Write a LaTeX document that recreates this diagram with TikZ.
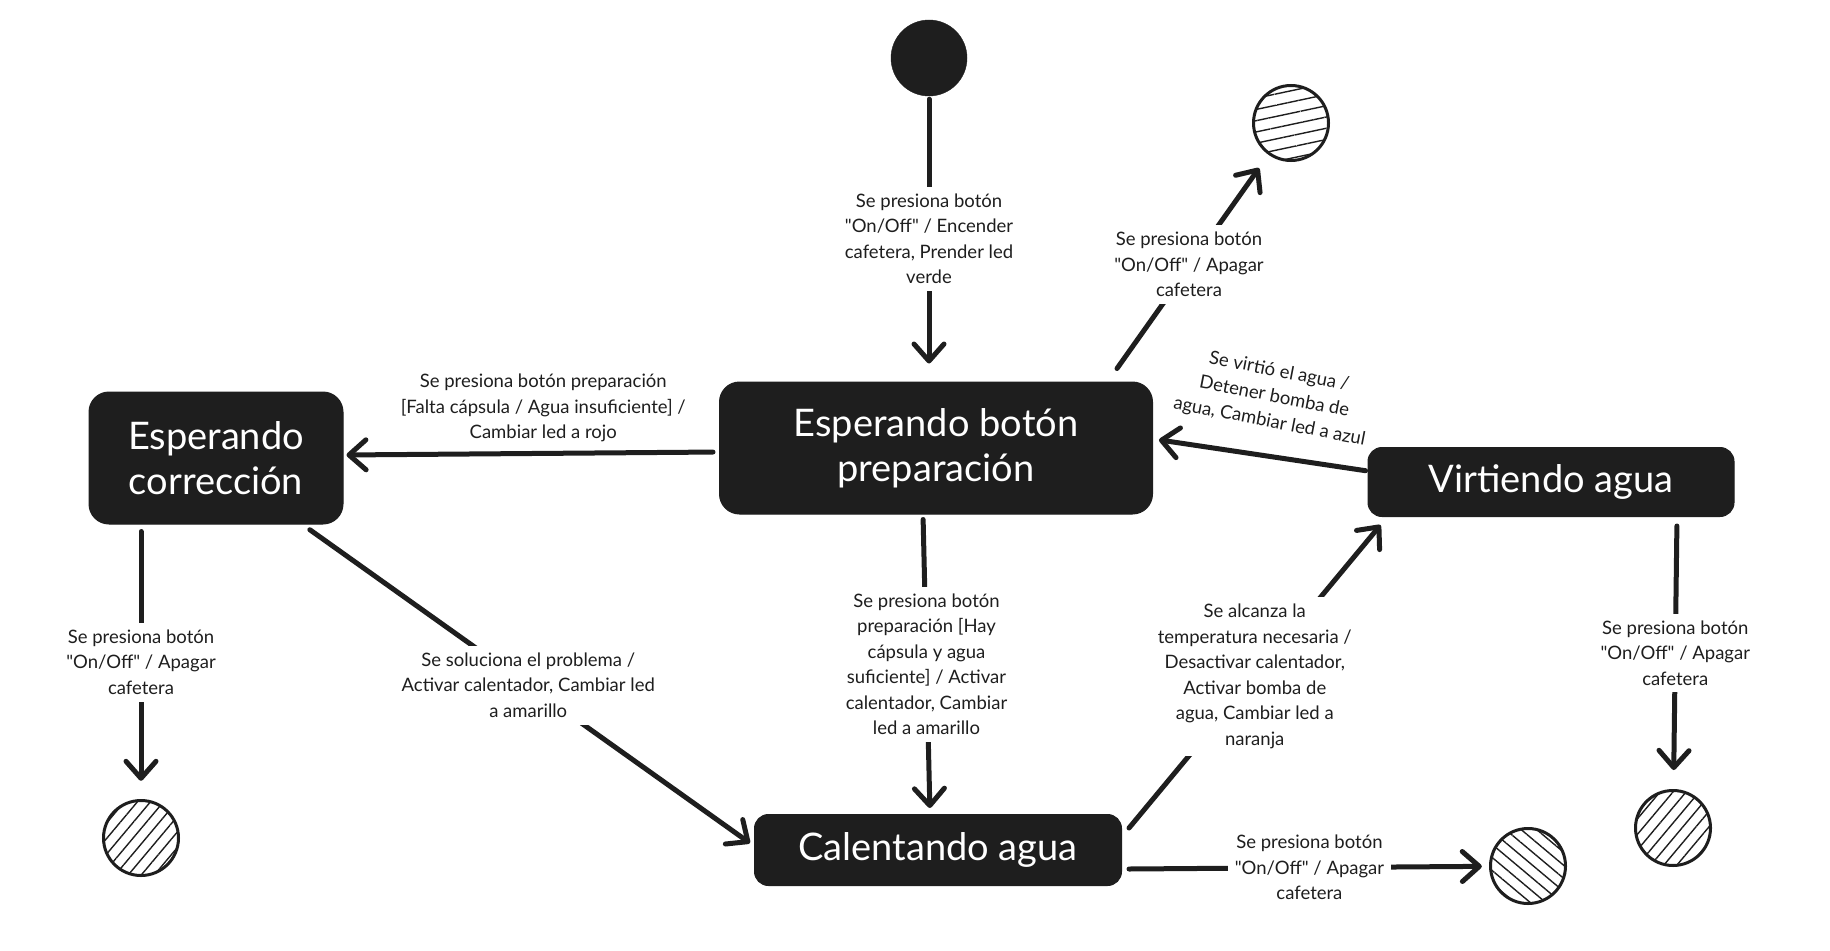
\documentclass[tikz,border=0pt]{standalone}
\usepackage{fontspec}
\setmainfont{Lato}[Ligatures=TeXOff]
\usetikzlibrary{arrows.meta,patterns.meta,calc}
\definecolor{ink}{HTML}{1E1E1E}
\begin{document}
\begin{tikzpicture}[x=1pt,y=-1pt,
  state/.style={rectangle, rounded corners=20pt, fill=ink, draw=ink, line width=1pt, text=white,
    font=\fontsize{38}{45}\selectfont, align=center, inner sep=0pt},
  startst/.style={circle, fill=ink, draw=ink, minimum size=76pt, inner sep=0pt},
  endst/.style={circle, draw=ink, line width=3pt, minimum size=75pt, inner sep=0pt, pattern color=ink},
  arr/.style={draw=ink, line width=5pt, line cap=round,
    -{Straight Barb[length=17pt,width=30pt,line width=5pt,round]}},
  lbl/.style={fill=white, text=ink, font=\fontsize{18.5}{25.5}\selectfont, align=center, inner sep=7pt},
]
\useasboundingbox (0,0) rectangle (1830,950);

% states
\node[startst] (init) at (929,58) {};
\node[state, minimum width=433pt, minimum height=132pt] (main) at (936,448) {Esperando botón\\preparación};
\node[state, minimum width=254pt, minimum height=132pt] (corr) at (216,458) {Esperando\\corrección};
\node[state, minimum width=366pt, minimum height=69pt, rounded corners=14pt] (virt) at (1551,482) {Virtiendo agua};
\node[state, minimum width=367pt, minimum height=71pt, rounded corners=14pt] (calent) at (938,850) {Calentando agua};

% final states
\node[endst, pattern={Lines[angle=12,distance=11pt,line width=1.4pt]}] (ftop) at (1291,123) {};
\node[endst, pattern={Lines[angle=50,distance=10pt,line width=1.4pt]}] (fleft) at (141,838) {};
\node[endst, pattern={Lines[angle=-40,distance=10pt,line width=1.4pt]}] (fbot) at (1528,866) {};
\node[endst, pattern={Lines[angle=50,distance=10pt,line width=1.4pt]}] (fright) at (1673,828) {};

% transitions
\draw[arr, shorten <=3pt, shorten >=18pt] (init) -- node[lbl] {Se presiona botón\\"On/Off" / Encender\\cafetera, Prender led\\verde} (init |- main.north);

\draw[arr, shorten <=6pt, shorten >=3pt] ($(main.west)+(0,4)$) -- node[lbl, above=2pt, xshift=12pt] {Se presiona botón preparación\\{}[Falta cápsula / Agua insuficiente] /\\Cambiar led a rojo} ($(corr.east)+(0,-3)$);

\draw[arr, shorten <=5pt, shorten >=6pt] ($(main.south)+(-13,0)$) -- node[lbl] {Se presiona botón\\preparación [Hay\\cápsula y agua\\suficiente] / Activar\\calentador, Cambiar\\led a amarillo} ($(calent.north)+(-8,0)$);

\draw[arr, shorten <=9pt, shorten >=5pt] ($(corr.south east)+(-41,0)$) -- node[lbl] {Se soluciona el problema /\\Activar calentador, Cambiar led\\a amarillo} ($(calent.west)+(0,-4)$);

\draw[arr] ($(calent.north east)+(7,14)$) -- node[lbl] {Se alcanza la\\temperatura necesaria /\\Desactivar calentador,\\Activar bomba de\\agua, Cambiar led a\\naranja} ($(virt.south west)+(13,8)$);

\draw[arr, shorten >=8pt] ($(calent.east)+(7,19)$) -- node[lbl] {Se presiona botón\\"On/Off" / Apagar\\cafetera} (fbot);

\draw[arr, shorten <=7pt, shorten >=19pt] ($(corr.south)+(-75,0)$) -- node[lbl] {Se presiona botón\\"On/Off" / Apagar\\cafetera} (fleft);

\draw[arr, shorten <=9pt, shorten >=19pt] ($(virt.south)+(126,0)$) -- node[lbl] {Se presiona botón\\"On/Off" / Apagar\\cafetera} (fright);

\draw[arr, shorten >=17pt] ($(main.north east)+(-36,-13)$) -- node[lbl, xshift=-4pt, yshift=-3pt] {Se presiona botón\\"On/Off" / Apagar\\cafetera} (ftop);

\draw[arr, shorten <=2pt, shorten >=6pt] ($(virt.west)+(0,-11)$) -- node[lbl, fill=none, inner sep=2pt, xshift=14pt, yshift=58pt, rotate=-11] {Se virtió el agua /\\Detener bomba de\\agua, Cambiar led a azul} ($(main.east)+(0,-9)$);
\end{tikzpicture}
\end{document}
